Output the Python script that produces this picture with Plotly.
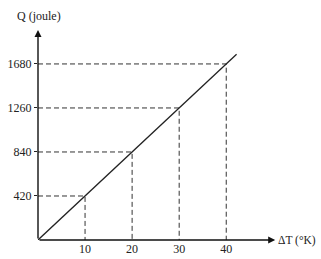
import plotly.graph_objects as go

dT = [10, 20, 30, 40]
Q = [420, 840, 1260, 1680]
line_end_x = 42.2
x_ticks = [10, 20, 30, 40]
y_ticks = [420, 840, 1260, 1680]

fig = go.Figure()
# dashed guides
for x, y in zip(dT, Q):
    fig.add_trace(go.Scatter(x=[0, x, x], y=[y, y, 0], mode="lines",
                             line=dict(color="#333", width=1, dash="5px,3px"),
                             hoverinfo="skip", showlegend=False))
# main line
slope = Q[-1] / dT[-1]
fig.add_trace(go.Scatter(x=[0, line_end_x], y=[0, slope * line_end_x], mode="lines",
                         line=dict(color="#222", width=1.3), showlegend=False))

xmax, ymax = 50.4, 2004
# axis arrows
fig.add_annotation(x=xmax, y=0, ax=0, ay=0, xref="x", yref="y", axref="x", ayref="y",
                   showarrow=True, arrowhead=2, arrowsize=1, arrowwidth=1.4, arrowcolor="#111", text="")
fig.add_annotation(x=0, y=ymax, ax=0, ay=0, xref="x", yref="y", axref="x", ayref="y",
                   showarrow=True, arrowhead=2, arrowsize=1, arrowwidth=1.4, arrowcolor="#111", text="")

font = dict(family="Liberation Serif", size=12, color="#222")
fig.add_annotation(x=(318 - 38) / 240, y=0, xref="paper", yref="y", text="ΔT (°K)", showarrow=False,
                   xanchor="right", yanchor="middle", font=dict(family="Liberation Serif", size=11.5, color="#222"))
fig.add_annotation(x=(15 - 38) / 240, y=1.0, xref="paper", yref="paper", text="Q (joule)", showarrow=False,
                   xanchor="left", yanchor="bottom", yshift=5, font=font)

fig.update_layout(
    width=321, height=259,
    margin=dict(l=38, r=43, t=30, b=19),
    paper_bgcolor="white", plot_bgcolor="white",
    font=font,
    xaxis=dict(range=[0, 51], tickvals=x_ticks, ticks="", showgrid=False, zeroline=False,
               showline=False, tickfont=font, fixedrange=True, automargin=False),
    yaxis=dict(range=[0, ymax], tickvals=y_ticks, ticks="outside", ticklen=3, tickcolor="#222",
               showgrid=False, zeroline=False, showline=False, tickfont=font, fixedrange=True,
               automargin=False),
)
fig.write_html("out.html")
